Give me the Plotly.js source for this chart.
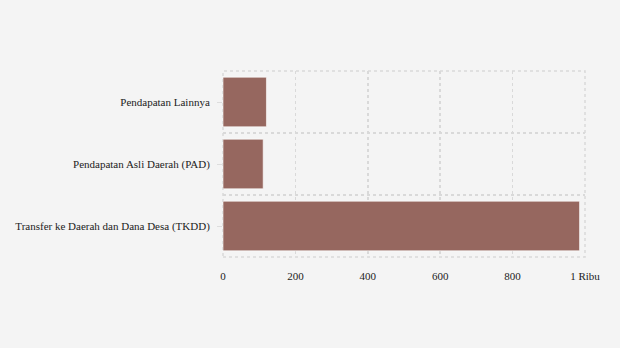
<!DOCTYPE html>
<html><head><meta charset="utf-8">
<script src="https://cdn.plot.ly/plotly-3.0.1.min.js"></script>
<style>html,body{margin:0;padding:0;background:#f4f4f4;}</style>
</head><body>
<div id="chart" style="width:620px;height:348px;"></div>
<script>
var categories = ["Transfer ke Daerah dan Dana Desa (TKDD)", "Pendapatan Asli Daerah (PAD)", "Pendapatan Lainnya"];
var values = [985, 111, 120];
var xTickVals = [0, 200, 400, 600, 800, 1000];
var xTickText = ["0", "200", "400", "600", "800", "1 Ribu"];

var positions = categories.map(function(c, i){ return i; });

var trace = {
  type: 'bar',
  orientation: 'h',
  x: values,
  y: positions,
  marker: {color: '#96675f', line: {color: 'rgba(255,255,255,0.6)', width: 1}},
  hoverinfo: 'x+text',
  text: categories,
  textposition: 'none'
};

var gridColor = '#d9d9d9';
var layout = {
  width: 620, height: 348,
  paper_bgcolor: '#f4f4f4',
  plot_bgcolor: '#f4f4f4',
  margin: {l: 222.5, r: 35, t: 71, b: 91},
  font: {family: '"Liberation Serif", "Times New Roman", serif', size: 11, color: '#222'},
  bargap: 0.2,
  showlegend: false,
  xaxis: {
    range: [0, 1000],
    tickvals: xTickVals,
    ticktext: xTickText,
    showgrid: true,
    gridcolor: gridColor,
    griddash: '3px,3px',
    gridwidth: 1.5,
    zeroline: false,
    showline: false,
    ticks: '',
    ticklabelstandoff: 11,
    fixedrange: true
  },
  yaxis: {
    range: [-0.5, 2.5],
    tickvals: positions,
    ticktext: categories,
    ticks: 'outside',
    ticklen: 5,
    tickcolor: '#dddddd',
    ticklabelstandoff: 5,
    showgrid: false,
    zeroline: false,
    showline: false,
    minor: {tick0: -0.5, dtick: 1, showgrid: true, gridcolor: gridColor, griddash: '3px,3px', gridwidth: 1.5, ticks: ''},
    fixedrange: true
  },
  shapes: [{
    type: 'rect', xref: 'paper', yref: 'paper', x0: 0, x1: 1, y0: 0, y1: 1,
    line: {color: gridColor, width: 1.5, dash: '3px,3px'}, layer: 'below'
  }]
};

Plotly.newPlot('chart', [trace], layout, {displayModeBar: false, staticPlot: true});
</script>
</body></html>
